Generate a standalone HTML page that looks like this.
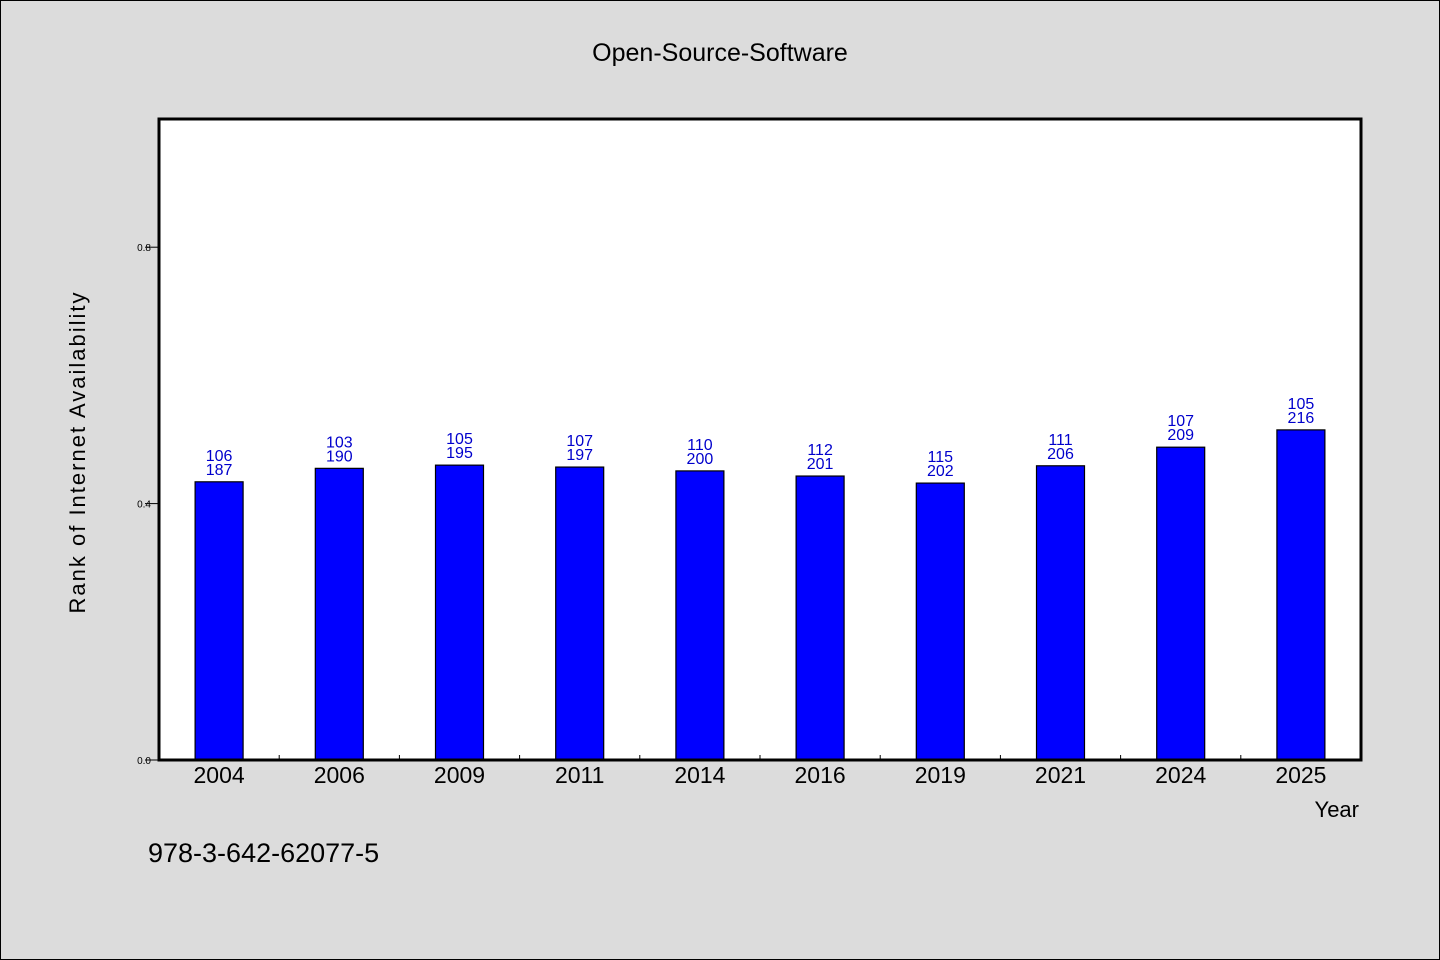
<!DOCTYPE html>
<html><head><meta charset="utf-8"><style>
html,body{margin:0;padding:0;background:#dcdcdc;}
svg{display:block;font-family:"WenQuanYi Zen Hei","Liberation Sans",sans-serif;}
</style></head><body>
<svg id="chart" width="1440" height="960" viewBox="0 0 1440 960">
<rect x="0.5" y="0.5" width="1439" height="959" fill="#dcdcdc" stroke="#000"/>
<text x="720" y="61" text-anchor="middle" font-size="25">Open-Source-Software</text>
<rect x="159" y="119" width="1202" height="641" fill="#fff"/>
<g id="bars"></g>
<g id="axes"></g>
<rect x="159" y="119" width="1202" height="641" fill="none" stroke="#000" stroke-width="3"/>
<text x="85" y="452" text-anchor="middle" font-size="22" transform="rotate(-90 85 452)" letter-spacing="2">Rank of Internet Availability</text>
<text x="1359" y="817" text-anchor="end" font-size="22">Year</text>
<text x="148" y="862" font-size="27">978-3-642-62077-5</text>
</svg>
<script>
const categories = ["2004","2006","2009","2011","2014","2016","2019","2021","2024","2025"];
const values = [0.434,0.455,0.460,0.457,0.451,0.443,0.432,0.459,0.488,0.515];
const topLabels = ["106","103","105","107","110","112","115","111","107","105"];
const bottomLabels = ["187","190","195","197","200","201","202","206","209","216"];
const yTicks = [0.0,0.4,0.8];
const yTickLabels = ["0.0","0.4","0.8"];

const L=159,R=1361,T=119,B=760;
const band=(R-L)/categories.length;
const xc=i=>L+band*(i+0.5);
const y=v=>B-(v/1.0)*(B-T);
const NS="http://www.w3.org/2000/svg";
const bars=document.getElementById('bars'), axes=document.getElementById('axes');
function mk(tag,attrs,parent,txt){const e=document.createElementNS(NS,tag);for(const k in attrs)e.setAttribute(k,attrs[k]);if(txt!==undefined)e.textContent=txt;parent.appendChild(e);return e;}
categories.forEach((c,i)=>{
  const bw=48, yt=y(values[i]);
  const r=mk('rect',{x:xc(i)-bw/2,y:yt,width:bw,height:B-yt,fill:'#0000ff',stroke:'#000','stroke-width':1.2},bars);
  
  
  const t1=mk('text',{x:xc(i),y:yt-21,'text-anchor':'middle','font-size':16,fill:'#0000cc'},bars,topLabels[i]);
  
  
  const t2=mk('text',{x:xc(i),y:yt-7,'text-anchor':'middle','font-size':16,fill:'#0000cc'},bars,bottomLabels[i]);
  
  
  const xl=mk('text',{x:xc(i),y:783,'text-anchor':'middle','font-size':23},axes,c);
  
  
  if(i>0){const tk=mk('line',{x1:L+band*i,x2:L+band*i,y1:B,y2:B-5,stroke:'#000'},axes);
    
    }
});
yTicks.forEach((v,i)=>{
  const tk=mk('line',{x1:145,x2:159,y1:y(v),y2:y(v),stroke:'#000'},axes);
  
  
  const tl=mk('text',{x:151,y:y(v)+4,'text-anchor':'end','font-size':10},axes,yTickLabels[i]);
  
  
});
</script>
</body></html>
